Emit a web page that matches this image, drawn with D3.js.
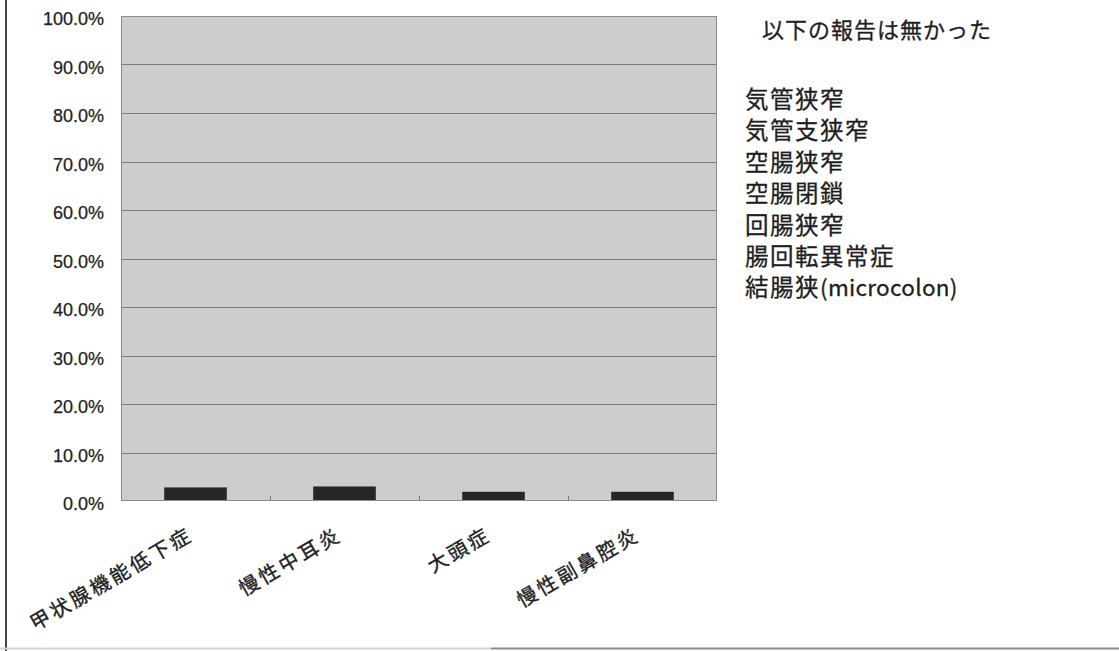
<!DOCTYPE html>
<html lang="ja">
<head>
<meta charset="utf-8">
<script src="https://cdn.jsdelivr.net/npm/d3@7"></script>
<style>
  html, body { margin: 0; padding: 0; background: #fff; }
  svg { display: block; }
  .ytick text { font-family: "Liberation Sans", Arial, sans-serif; font-size: 18px; fill: #222; stroke: #222; stroke-width: 0.25px; }
  .xlab { font-family: "Noto Sans CJK JP", sans-serif; font-size: 20px; fill: #1e1e1e; stroke: #1e1e1e; stroke-width: 0.35px; letter-spacing: 3px; }
  .note { font-family: "Noto Sans CJK JP", sans-serif; fill: #1e1e1e; stroke: #1e1e1e; stroke-width: 0.3px; }
</style>
</head>
<body>
<svg id="chart" width="1119" height="651"></svg>
<script>
// Categories and their reported rates (%)
const categories = ["甲状腺機能低下症", "慢性中耳炎", "大頭症", "慢性副鼻腔炎"];
const rates = [2.8, 3.0, 1.9, 1.9];
const yTicks = [0, 10, 20, 30, 40, 50, 60, 70, 80, 90, 100];

// Side note: conditions with no reports
const noteTitle = "以下の報告は無かった";
const noteItems = ["気管狭窄", "気管支狭窄", "空腸狭窄", "空腸閉鎖", "回腸狭窄", "腸回転異常症", "結腸狭(microcolon)"];

const svg = d3.select("#chart");
const plot = { left: 121, right: 717, top: 16, bottom: 501 };

const x = d3.scaleBand()
  .domain(categories)
  .range([plot.left, plot.right])
  .paddingInner(0.58)
  .paddingOuter(0.29);

const y = d3.scaleLinear().domain([0, 100]).range([plot.bottom, plot.top]);

// Page frame lines
svg.append("line").attr("x1", 6).attr("x2", 6).attr("y1", 0).attr("y2", 651)
  .attr("stroke", "#444").attr("stroke-width", 2);
svg.append("line").attr("x1", 0).attr("x2", 491).attr("y1", 648.5).attr("y2", 648.5)
  .attr("stroke", "#d4d4d4").attr("stroke-width", 2);
svg.append("line").attr("x1", 491).attr("x2", 1119).attr("y1", 648.5).attr("y2", 648.5)
  .attr("stroke", "#8a8a8a").attr("stroke-width", 2);

// Plot background
svg.append("rect")
  .attr("x", plot.left).attr("y", plot.top)
  .attr("width", plot.right - plot.left).attr("height", plot.bottom - plot.top)
  .attr("fill", "#cdcdcd");

// Horizontal gridlines
svg.append("g")
  .selectAll("line")
  .data(yTicks.filter(t => t > 0 && t < 100))
  .join("line")
  .attr("x1", plot.left).attr("x2", plot.right)
  .attr("y1", d => Math.round(y(d)) + 0.5).attr("y2", d => Math.round(y(d)) + 0.5)
  .attr("stroke", "#7a7a7a").attr("stroke-width", 1);

// Bars
svg.append("g")
  .selectAll("rect")
  .data(categories.map((c, i) => ({ c, v: rates[i] })))
  .join("rect")
  .attr("x", d => x(d.c))
  .attr("y", d => y(d.v))
  .attr("width", x.bandwidth())
  .attr("height", d => y(0) - y(d.v))
  .attr("fill", "#262626");

// Plot border
svg.append("rect")
  .attr("x", plot.left + 0.5).attr("y", plot.top + 0.5)
  .attr("width", plot.right - plot.left - 1).attr("height", plot.bottom - plot.top - 1)
  .attr("fill", "none").attr("stroke", "#8c8c8c").attr("stroke-width", 1);

// Category separators on the baseline
const step = x.step();
const seps = categories.slice(1).map(c => x(c) - x.paddingInner() * step / 2);
svg.append("g")
  .selectAll("line")
  .data(seps)
  .join("line")
  .attr("x1", d => Math.round(d) + 0.5).attr("x2", d => Math.round(d) + 0.5)
  .attr("y1", plot.bottom - 5).attr("y2", plot.bottom)
  .attr("stroke", "#7a7a7a");

// Y axis labels
const yAxis = d3.axisLeft(y)
  .tickValues(yTicks)
  .tickFormat(d => d.toFixed(1) + "%")
  .tickSize(0)
  .tickPadding(0);
const gy = svg.append("g")
  .attr("class", "ytick")
  .attr("transform", `translate(104,3)`)
  .call(yAxis);
gy.select(".domain").remove();
gy.selectAll("text").attr("fill", "#222");

// Rotated category labels
svg.append("g")
  .selectAll("text")
  .data(categories)
  .join("text")
  .attr("class", "xlab")
  .attr("text-anchor", "end")
  .attr("transform", d => `translate(${x(d) + x.bandwidth() / 2 - 1},539) rotate(-30)`)
  .text(d => d);

// Side note
svg.append("text")
  .attr("class", "note")
  .attr("x", 762).attr("y", 28)
  .attr("dominant-baseline", "central")
  .attr("font-size", 22)
  .style("letter-spacing", "1px")
  .text(noteTitle);

// Each item: CJK runs spaced a little wider than the Latin run
const notes = svg.append("g")
  .selectAll("text")
  .data(noteItems)
  .join("text")
  .attr("class", "note")
  .attr("x", 745)
  .attr("y", (d, i) => 98 + i * 31.4)
  .attr("dominant-baseline", "central")
  .attr("font-size", 23.5);

notes.selectAll("tspan")
  .data(d => d.match(/[\x00-\x7F]+|[^\x00-\x7F]+/g))
  .join("tspan")
  .style("letter-spacing", s => /^[\x00-\x7F]+$/.test(s) ? "0.3px" : "1.5px")
  .attr("font-size", s => /^[\x00-\x7F]+$/.test(s) ? 22.5 : null)
  .text(s => s);
</script>
</body>
</html>
